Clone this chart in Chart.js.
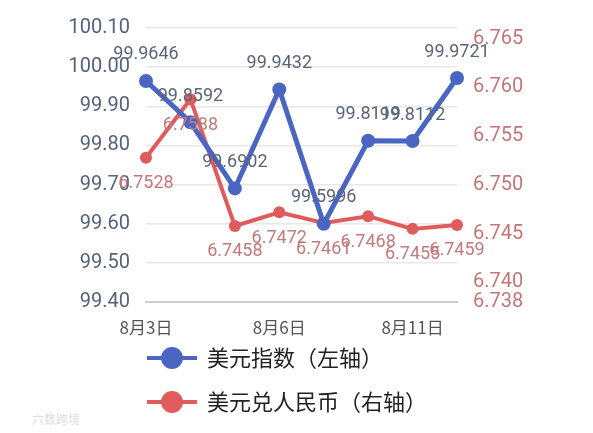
<!DOCTYPE html>
<html>
<head>
<meta charset="utf-8">
<script src="https://cdn.jsdelivr.net/npm/chart.js@4.4.1/dist/chart.umd.min.js"></script>
<style>
  html, body { margin: 0; padding: 0; background: #ffffff; }
  #wrap { width: 593px; height: 433px; position: relative; }
</style>
</head>
<body>
<div id="wrap"><canvas id="c" width="593" height="433"></canvas></div>
<script>
const categories = ['8月3日', '8月4日', '8月5日', '8月6日', '8月7日', '8月10日', '8月11日', '8月12日'];
const usdIndex = [99.9646, 99.8592, 99.6902, 99.9432, 99.5996, 99.8119, 99.8112, 99.9721];
const usdCny = [6.7528, 6.7588, 6.7458, 6.7472, 6.7461, 6.7468, 6.7455, 6.7459];
const leftTicks = [99.40, 99.50, 99.60, 99.70, 99.80, 99.90, 100.00, 100.10];
const rightTicks = [6.738, 6.740, 6.745, 6.750, 6.755, 6.760, 6.765];
const seriesNames = ['美元指数（左轴）', '美元兑人民币（右轴）'];

const BLUE = '#4a66c2';
const RED = '#e05c5c';
const NUM_FONT = 'Roboto, "Noto Sans", sans-serif';
const CJK_FONT = '"Noto Sans CJK SC", "Noto Sans", sans-serif';

const valueLabels = {
  id: 'valueLabels',
  afterDatasetsDraw(chart) {
    const ctx = chart.ctx;
    ctx.save();
    ctx.font = '18px ' + NUM_FONT;
    ctx.textAlign = 'center';
    ctx.textBaseline = 'middle';
    chart.data.datasets.forEach((ds, di) => {
      const meta = chart.getDatasetMeta(di);
      meta.data.forEach((pt, i) => {
        const v = ds.data[i];
        if (di === 0) {
          ctx.fillStyle = '#5b6579';
          ctx.fillText(v.toFixed(4), pt.x, pt.y - 26);
        } else {
          ctx.fillStyle = '#c27a7c';
          ctx.fillText(v.toFixed(4), pt.x, pt.y + 26);
        }
      });
    });
    ctx.restore();
  }
};

const customLegend = {
  id: 'customLegend',
  afterDraw(chart) {
    const ctx = chart.ctx;
    ctx.save();
    const rows = [358, 402];
    chart.data.datasets.forEach((ds, di) => {
      const y = rows[di];
      ctx.strokeStyle = ds.borderColor;
      ctx.lineWidth = 4;
      ctx.beginPath();
      ctx.moveTo(147, y);
      ctx.lineTo(197, y);
      ctx.stroke();
      ctx.fillStyle = ds.backgroundColor;
      ctx.beginPath();
      ctx.arc(172, y, 11, 0, Math.PI * 2);
      ctx.fill();
      ctx.fillStyle = '#222222';
      ctx.font = '22px ' + CJK_FONT;
      ctx.textAlign = 'left';
      ctx.textBaseline = 'middle';
      ctx.fillText(ds.label, 207, y);
    });
    ctx.fillStyle = '#dcdcdc';
    ctx.font = '12px ' + CJK_FONT;
    ctx.textAlign = 'left';
    ctx.textBaseline = 'middle';
    ctx.fillText('六数跨境', 32, 419);
    ctx.restore();
  }
};

new Chart(document.getElementById('c'), {
  type: 'line',
  data: {
    labels: categories,
    datasets: [
      {
        label: seriesNames[0],
        data: usdIndex,
        yAxisID: 'y',
        borderColor: BLUE,
        backgroundColor: BLUE,
        borderWidth: 5,
        pointRadius: 7,
        pointHoverRadius: 7,
        pointBackgroundColor: BLUE,
        pointBorderWidth: 0,
        tension: 0
      },
      {
        label: seriesNames[1],
        data: usdCny,
        yAxisID: 'y1',
        borderColor: RED,
        backgroundColor: RED,
        borderWidth: 4,
        pointRadius: 6,
        pointHoverRadius: 6,
        pointBackgroundColor: RED,
        pointBorderWidth: 0,
        tension: 0
      }
    ]
  },
  options: {
    responsive: false,
    animation: false,
    events: [],
    layout: { padding: { top: 21, bottom: 90, left: 0, right: 0 } },
    plugins: {
      legend: { display: false },
      tooltip: { enabled: false }
    },
    scales: {
      x: {
        offset: false,
        grid: { display: false, drawTicks: false },
        border: { display: true, color: '#cfcfcf', width: 2 },
        ticks: {
          autoSkip: false,
          maxRotation: 0,
          padding: 15,
          color: '#555555',
          font: { size: 17, family: CJK_FONT },
          callback: function (v, i) { return i % 3 === 0 ? categories[i] : ''; }
        },
        afterFit(axis) { axis.height = 41; }
      },
      y: {
        position: 'left',
        min: 99.4,
        max: 100.1,
        afterBuildTicks(axis) { axis.ticks = leftTicks.map(v => ({ value: v })); },
        grid: { color: '#e8e8e8', lineWidth: 1.5, drawTicks: false },
        border: { display: false },
        ticks: {
          padding: 16,
          color: '#56627a',
          font: { size: 20, family: NUM_FONT },
          callback: v => Number(v).toFixed(2)
        },
        afterFit(axis) { axis.width = 146; }
      },
      y1: {
        position: 'right',
        min: 6.738,
        max: 6.7661,
        afterBuildTicks(axis) { axis.ticks = rightTicks.map(v => ({ value: v })); },
        grid: { drawOnChartArea: false, drawTicks: false },
        border: { display: false },
        ticks: {
          padding: 16,
          color: '#c47676',
          font: { size: 20, family: NUM_FONT },
          callback: v => Number(v).toFixed(3)
        },
        afterFit(axis) { axis.width = 136; }
      }
    }
  },
  plugins: [valueLabels, customLegend]
});
</script>
</body>
</html>
